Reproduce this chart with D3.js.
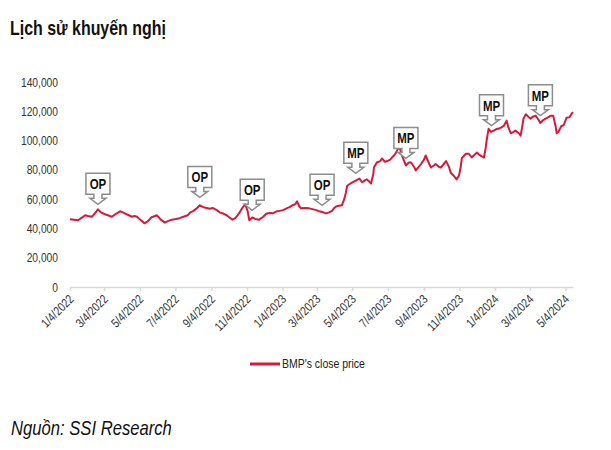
<!DOCTYPE html>
<html><head><meta charset="utf-8">
<script src="https://cdn.jsdelivr.net/npm/d3@7"></script>
<style>
body{margin:0;background:#fff;}
text{font-family:'Liberation Sans',Arial,sans-serif;}
</style></head>
<body><svg id="c" width="611" height="450"></svg>
<script>
const dates = ["2022-01-04","2022-01-11","2022-01-18","2022-01-25","2022-01-30","2022-02-04","2022-02-11","2022-02-16","2022-02-21","2022-02-26","2022-03-05","2022-03-10","2022-03-17","2022-03-24","2022-03-31","2022-04-05","2022-04-08","2022-04-15","2022-04-20","2022-04-25","2022-04-29","2022-05-06","2022-05-12","2022-05-18","2022-05-24","2022-05-30","2022-06-02","2022-06-09","2022-06-16","2022-06-21","2022-06-28","2022-07-05","2022-07-11","2022-07-18","2022-07-25","2022-07-30","2022-08-04","2022-08-09","2022-08-15","2022-08-21","2022-08-27","2022-09-01","2022-09-06","2022-09-13","2022-09-18","2022-09-25","2022-09-30","2022-10-05","2022-10-10","2022-10-15","2022-10-19","2022-10-24","2022-10-27","2022-11-01","2022-11-05","2022-11-08","2022-11-13","2022-11-18","2022-11-25","2022-12-02","2022-12-07","2022-12-12","2022-12-18","2022-12-24","2022-12-30","2023-01-05","2023-01-11","2023-01-16","2023-01-21","2023-01-26","2023-01-29","2023-02-02","2023-02-05","2023-02-12","2023-02-19","2023-02-26","2023-03-03","2023-03-08","2023-03-15","2023-03-20","2023-03-25","2023-03-30","2023-04-03","2023-04-06","2023-04-11","2023-04-16","2023-04-20","2023-04-23","2023-04-25","2023-04-28","2023-05-04","2023-05-09","2023-05-16","2023-05-21","2023-05-26","2023-05-29","2023-06-02","2023-06-05","2023-06-09","2023-06-10","2023-06-15","2023-06-21","2023-06-24","2023-06-29","2023-07-03","2023-07-08","2023-07-11","2023-07-15","2023-07-18","2023-07-21","2023-07-23","2023-07-26","2023-07-28","2023-08-01","2023-08-04","2023-08-09","2023-08-13","2023-08-18","2023-08-21","2023-08-26","2023-08-30","2023-09-04","2023-09-07","2023-09-12","2023-09-16","2023-09-21","2023-09-24","2023-09-30","2023-10-03","2023-10-08","2023-10-12","2023-10-17","2023-10-20","2023-10-25","2023-10-30","2023-11-03","2023-11-06","2023-11-08","2023-11-15","2023-11-20","2023-11-25","2023-11-29","2023-12-04","2023-12-09","2023-12-16","2023-12-19","2023-12-21","2023-12-24","2023-12-28","2024-01-02","2024-01-07","2024-01-10","2024-01-15","2024-01-19","2024-01-24","2024-01-27","2024-01-31","2024-02-05","2024-02-08","2024-02-14","2024-02-17","2024-02-20","2024-02-22","2024-02-26","2024-03-02","2024-03-05","2024-03-10","2024-03-14","2024-03-19","2024-03-22","2024-03-27","2024-03-31","2024-04-05","2024-04-08","2024-04-13","2024-04-17","2024-04-19","2024-04-22","2024-04-27","2024-05-01","2024-05-06","2024-05-11","2024-05-14","2024-05-17"];
const prices = [46300,46000,45600,47500,49000,48500,48000,50500,53000,51000,49700,49000,48000,50000,51700,51000,50300,49000,48000,48500,48000,45500,43500,45000,47600,48500,49000,46000,44000,45000,46000,46500,47000,48000,49000,51000,52000,53500,55800,54500,54000,53500,54000,52500,51000,50000,49000,47500,46000,47000,49000,52000,54000,56500,52000,45600,47500,46500,46000,48000,50000,50500,50300,51500,52000,52500,53700,54500,55800,56500,58500,55000,53700,54000,53700,53000,52500,51700,51000,50300,51000,52000,54000,55000,55500,55800,60000,64600,69000,70000,71400,72500,74000,71500,73000,73500,72000,70700,77000,81600,85000,86000,87800,85500,86000,87000,88400,90000,91800,94000,96000,93000,90000,86000,83000,85000,85000,82000,79600,82000,84000,87000,89800,85000,81600,83000,84000,82000,81600,84000,86000,82000,78000,76000,73500,76000,81600,88000,91000,91000,88500,90000,91800,90000,88400,95000,101000,108000,106000,106800,108000,108000,109000,110000,113600,109000,105000,106000,106800,105000,103400,110000,115000,118000,116000,115000,116500,117000,114000,112000,114000,115000,116000,117000,117000,110000,105000,106000,110000,110500,115600,116000,118000,119500];
const yTicks = [0,20000,40000,60000,80000,100000,120000,140000];
const xTickDates = ["2022-01-04","2022-03-04","2022-05-04","2022-07-04","2022-09-04","2022-11-04","2023-01-04","2023-03-04","2023-05-04","2023-07-04","2023-09-04","2023-11-04","2024-01-04","2024-03-04","2024-05-04"];
const markerDates = ["2022-02-21","2022-08-15","2022-11-13","2023-03-13","2023-05-10","2023-08-04","2023-12-29","2024-03-22"];
const markerLabels = ["OP","OP","OP","OP","MP","MP","MP","MP"];
const markerLevels = [56500,61200,52400,55800,77600,87800,110200,117000];
const seriesName = "BMP's close price";

const NARROW = 0.82;
const parse = d3.timeParse("%Y-%m-%d");
const data = dates.map((d,i)=>({date:parse(d), v:prices[i]}));
const svg = d3.select("#c");
const x = d3.scaleTime().domain([parse("2022-01-04"), parse("2024-05-17")]).range([70,573]);
const y = d3.scaleLinear().domain([0,140000]).range([287,82]);

// narrow text placed at (px,py) with given anchor, fitted to a width
function narrowText(px, py, str, size, opts={}){
  const g = svg.append("g").attr("transform",`translate(${px},${py})`);
  const t = g.append("text").attr("x",0).attr("y",0).attr("font-size",size)
    .attr("font-weight",opts.weight||"normal").attr("font-style",opts.style||"normal")
    .attr("fill",opts.fill||"#111").attr("text-anchor",opts.anchor||"start").text(str);
  let s = NARROW;
  if(opts.width){ s = opts.width / t.node().getComputedTextLength(); }
  t.attr("transform",`scale(${s},1)`);
  return t;
}

narrowText(10,35,"Lịch sử khuyến nghị",20,{weight:"bold",width:156});

const ya = svg.append("g").attr("transform","translate(62,0)")
  .call(d3.axisLeft(y).tickValues(yTicks).tickFormat(d3.format(",")).tickSize(0).tickPadding(4));
ya.select(".domain").remove();
ya.selectAll("text").attr("font-size",12.5).attr("fill","#333").attr("transform",`scale(${NARROW},1)`).attr("x",-4/NARROW);

const xa = svg.append("g").attr("transform","translate(0,287)")
  .call(d3.axisBottom(x).tickValues(xTickDates.map(parse)).tickFormat(d3.timeFormat("%-m/%-d/%Y")).tickSize(4).tickSizeOuter(0));
xa.select(".domain").attr("stroke","#d9d9d9").attr("stroke-width",1.5);
xa.selectAll(".tick line").attr("stroke","#d9d9d9").attr("stroke-width",1.5);
xa.selectAll("text").attr("font-size",12.5).attr("fill","#333")
  .attr("text-anchor","end").attr("dy",0).attr("y",0)
  .attr("transform",`translate(4,13) rotate(-45) scale(${NARROW},1)`);

const line = d3.line().x(d=>x(d.date)).y(d=>y(d.v));
svg.append("path").datum(data).attr("d",line).attr("fill","none").attr("stroke","#d7193a").attr("stroke-width",2).attr("stroke-linejoin","round");

const callout = "M-12,-31H12V-10H4V-6H8L0,0L-8,-6H-4V-10H-12Z";
markerDates.forEach((d,i)=>{
  const g = svg.append("g").attr("transform",`translate(${x(parse(d))},${y(markerLevels[i])})`);
  g.append("path").attr("d",callout).attr("fill","#fff").attr("stroke","#8c8c8c").attr("stroke-width",1.5);
  g.append("text").attr("x",0).attr("y",-15).attr("text-anchor","middle").attr("font-size",14).attr("font-weight","bold").attr("fill","#111")
   .attr("transform",`scale(${NARROW},1)`).text(markerLabels[i]);
});

svg.append("line").attr("x1",250).attr("x2",280).attr("y1",364).attr("y2",364).attr("stroke","#d7193a").attr("stroke-width",3);
narrowText(282,368,seriesName,12.5,{fill:"#222",width:83});

narrowText(11,435,"Nguồn: SSI Research",20,{style:"italic",width:161});
</script></body></html>
